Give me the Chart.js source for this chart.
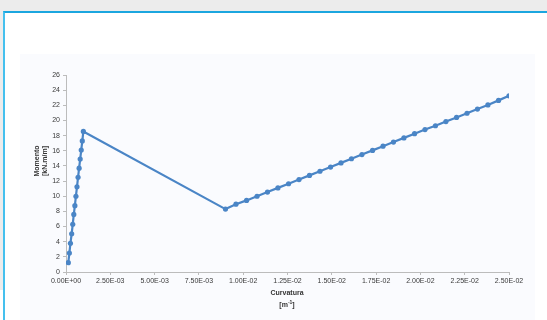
<!DOCTYPE html>
<html>
<head>
<meta charset="utf-8">
<script src="https://cdn.jsdelivr.net/npm/chart.js@4/dist/chart.umd.min.js"></script>
<style>
  html, body { margin: 0; padding: 0; }
  body { width: 547px; height: 320px; overflow: hidden; background: #ececec; position: relative;
         font-family: "Liberation Sans", "DejaVu Sans", sans-serif; }
  #panel { position: absolute; left: 3px; top: 11px; width: 600px; height: 400px; background: #fff;
           border-left: 2px solid #45c0ee; border-top: 2px solid #1ba6df; }
  #plate { position: absolute; left: 20px; top: 54px; width: 515px; height: 300px; background: #fafbfe; }
  #corner { position: absolute; left: 0; top: 290px; width: 3px; height: 30px; background: #fff; }
  canvas { position: absolute; left: 0; top: 0; }
  .ttl { position: absolute; font-size: 7px; font-weight: bold; color: #333; white-space: nowrap;
         line-height: 8px; text-align: center; }
  .rot { transform: translate(-50%, -50%) rotate(-90deg); }
  .hor { transform: translate(-50%, -50%); }
</style>
</head>
<body>
<div id="panel"></div>
<div id="plate"></div>
<div id="corner"></div>
<canvas id="c" width="547" height="320"></canvas>
<div class="ttl rot" style="left:37px; top:161px;">Momento</div>
<div class="ttl rot" style="left:45px; top:161px;">[kN.m/m]</div>
<div class="ttl hor" style="left:287px; top:293px;">Curvatura</div>
<div class="ttl hor" style="left:287px; top:303px;">[m<sup style="font-size:5px; vertical-align:3px;">-1</sup>]</div>
<script>
// Moment–curvature curve: elastic branch, softening drop, hardening branch
const curvature = [
  0.00013, 0.00019, 0.00025, 0.00032, 0.00038, 0.00044, 0.00050, 0.00056,
  0.00062, 0.00068, 0.00074, 0.00080, 0.00086, 0.00092, 0.00098,
  0.00900, 0.00959, 0.01019, 0.01078, 0.01137, 0.01196, 0.01256, 0.01315,
  0.01374, 0.01433, 0.01493, 0.01552, 0.01611, 0.01670, 0.01730, 0.01789,
  0.01848, 0.01907, 0.01967, 0.02026, 0.02085, 0.02144, 0.02204, 0.02263,
  0.02322, 0.02381, 0.02441, 0.02500
];
const moment = [
  1.23, 2.50, 3.78, 5.05, 6.30, 7.60, 8.75, 10.00,
  11.25, 12.50, 13.70, 14.90, 16.10, 17.30, 18.55,
  8.30, 8.95, 9.45, 10.00, 10.55, 11.10, 11.65, 12.20,
  12.75, 13.30, 13.85, 14.40, 14.95, 15.50, 16.05, 16.60,
  17.15, 17.70, 18.25, 18.80, 19.30, 19.85, 20.40, 20.95,
  21.50, 22.05, 22.65, 23.25
];
const xTickLabels = ['0.00E+00', '2.50E-03', '5.00E-03', '7.50E-03', '1.00E-02', '1.25E-02',
                     '1.50E-02', '1.75E-02', '2.00E-02', '2.25E-02', '2.50E-02'];
const yTickLabels = ['0', '2', '4', '6', '8', '10', '12', '14', '16', '18', '20', '22', '24', '26'];

const points = curvature.map((x, i) => ({ x: x, y: moment[i] }));
const blue = '#4a85c6';
const axisGrey = '#bcbcbc';
const tickFont = { family: '"Liberation Sans", sans-serif', size: 7 };

new Chart(document.getElementById('c'), {
  type: 'scatter',
  data: {
    datasets: [{
      data: points,
      showLine: true,
      borderColor: blue,
      backgroundColor: blue,
      borderWidth: 2.2,
      pointRadius: 2.6,
      pointStyle: 'circle',
      pointBorderWidth: 0,
      tension: 0
    }]
  },
  options: {
    responsive: false,
    animation: false,
    layout: { padding: { top: 75, right: 38, left: 0, bottom: 0 } },
    plugins: { legend: { display: false }, tooltip: { enabled: false } },
    scales: {
      x: {
        type: 'linear',
        min: 0, max: 0.025,
        afterBuildTicks: (s) => { s.ticks = xTickLabels.map((_, i) => ({ value: i * 0.0025 })); },
        ticks: {
          color: '#3a3a3a', font: tickFont, padding: 2, maxRotation: 0, autoSkip: false,
          callback: (v, i) => xTickLabels[i]
        },
        grid: { drawOnChartArea: false, color: axisGrey, tickLength: 3 },
        border: { color: axisGrey },
        afterFit: (s) => { s.height = 48; }
      },
      y: {
        type: 'linear',
        min: 0, max: 26,
        afterBuildTicks: (s) => { s.ticks = yTickLabels.map((t) => ({ value: Number(t) })); },
        ticks: {
          color: '#3a3a3a', font: tickFont, padding: 3, autoSkip: false,
          callback: (v, i) => yTickLabels[i]
        },
        grid: { drawOnChartArea: false, color: axisGrey, tickLength: 3 },
        border: { color: axisGrey },
        afterFit: (s) => { s.width = 66; }
      }
    }
  }
});
</script>
</body>
</html>
